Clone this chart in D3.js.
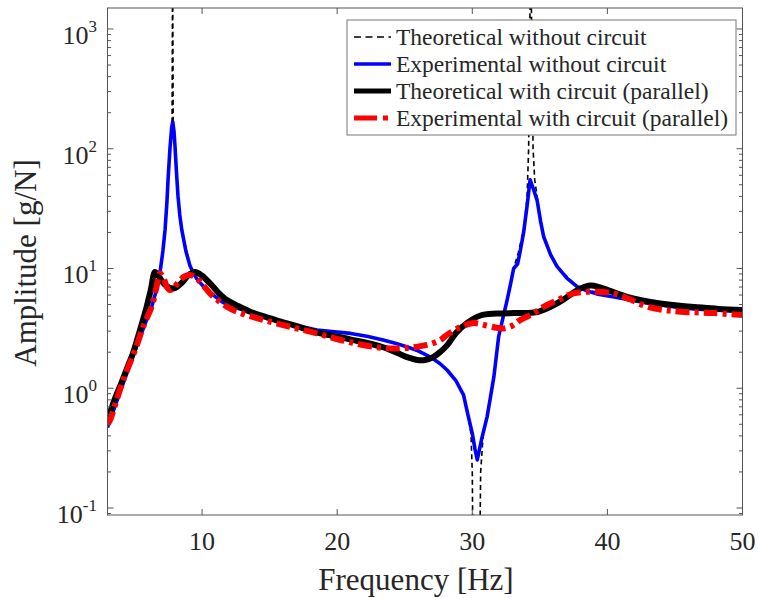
<!DOCTYPE html>
<html>
<head>
<meta charset="utf-8">
<script src="https://cdn.jsdelivr.net/npm/d3@7"></script>
<style>
  body { margin: 0; background: #fff; }
  svg { display: block; }
  text { font-family: "Liberation Serif", "Times New Roman", serif; fill: #262626; }
</style>
</head>
<body>
<svg id="chart" width="760" height="598"></svg>
<script>
// Frequency response data: [frequency (Hz), amplitude (g/N)]
const theoWithout = [
  [3.0,0.47],[4.0,0.98],[5.0,2.0],[6.0,4.0],[6.6,6.5],[6.9,9.2],[7.26,21],[7.48,55],[7.63,103],
  [7.78,170],[7.82,5000],[7.86,170],[8.0,103],[8.22,40],[8.5,21],[9.11,10.5],[9.61,8.2],[10.59,6.3],
  [11.56,5.2],[13.5,4.35],[16.0,3.55],[18.5,3.06],[21.0,2.87],[23.4,2.53],[25.2,2.21],[26.9,1.82],
  [28.13,1.42],[28.8,1.15],[29.35,0.88],[29.65,0.62],[29.9,0.42],[30.0,0.2],[30.05,0.04],[30.3,0.0001],
  [30.55,0.04],[30.62,0.2],[30.8,0.4],[31.1,0.58],[31.6,1.25],[31.95,2.7],[32.57,5.4],[33.06,10.0],
  [33.4,13.5],[33.8,21],[34.05,38],[34.17,100],[34.32,5000],[34.5,100],[34.62,55],[34.8,40],
  [35.05,26],[35.28,18.5],[35.8,13],[36.27,10.4],[37.76,7.05],[40.4,5.8],[42.9,5.15],[45.4,4.7],
  [47.85,4.5],[50,4.36]
];
const expWithout = [
  [3.0,0.47],[3.5,0.68],[4.0,0.98],[4.5,1.4],[5.0,2.0],[5.5,2.85],[6.0,4.0],[6.3,4.9],[6.6,6.5],
  [6.9,9.5],[7.1,14],[7.26,21],[7.4,36],[7.48,55],[7.63,103],[7.75,150],[7.83,168],[7.92,140],
  [8.0,103],[8.1,65],[8.22,40],[8.35,28],[8.5,21],[8.8,14],[9.11,10.5],[9.4,9.0],[9.61,8.2],
  [10.0,7.3],[10.59,6.3],[11.0,5.8],[11.56,5.2],[12.5,4.7],[13.5,4.35],[14.5,4.05],[16.0,3.55],
  [17.3,3.28],[18.5,3.06],[19.8,2.96],[21.0,2.87],[22.2,2.72],[23.4,2.53],[24.3,2.38],[25.2,2.21],
  [26.0,2.05],[26.9,1.82],[27.6,1.61],[28.13,1.42],[28.8,1.15],[29.35,0.88],[29.65,0.62],[30.0,0.42],
  [30.2,0.31],[30.37,0.252],[30.7,0.38],[31.1,0.58],[31.35,0.85],[31.6,1.25],[31.95,2.7],[32.3,4.0],
  [32.57,5.4],[32.85,7.6],[33.06,10.0],[33.35,10.9],[33.55,14],[33.8,20],[34.05,33],[34.28,55],
  [34.5,47],[34.8,37],[35.05,25],[35.28,18.5],[35.8,13],[36.27,10.4],[37.0,8.3],[37.76,7.05],
  [38.5,6.5],[39.3,6.1],[40.4,5.8],[41.7,5.45],[42.9,5.15],[44.2,4.9],[45.4,4.7],[46.6,4.58],
  [47.85,4.5],[50,4.36]
];
const theoWith = [
  [3.0,0.54],[3.5,0.79],[4.0,1.09],[4.5,1.52],[4.89,1.97],[5.4,3.05],[5.9,4.8],[6.2,6.6],[6.52,9.35],
  [6.8,8.6],[7.2,7.4],[7.6,6.9],[8.0,6.85],[8.5,7.6],[9.0,8.8],[9.48,9.35],[10.0,8.7],[10.59,7.5],
  [11.2,6.3],[11.83,5.46],[12.6,4.9],[13.56,4.36],[15.0,3.85],[16.0,3.55],[16.76,3.37],[18.52,2.92],
  [20.96,2.56],[23.4,2.2],[24.67,1.92],[25.3,1.8],[25.93,1.72],[26.5,1.72],[27.1,1.82],[27.6,2.0],
  [28.13,2.28],[28.8,2.9],[29.6,3.5],[30.6,4.05],[31.8,4.2],[33.04,4.24],[34.0,4.25],[34.8,4.33],
  [35.8,4.8],[36.74,5.5],[37.5,6.3],[38.0,6.8],[38.74,7.2],[39.4,7.0],[40.2,6.5],[41.46,5.8],
  [42.6,5.4],[43.9,5.1],[45.2,4.9],[46.4,4.78],[48.2,4.6],[50,4.5]
];
const expWith = [
  [3.0,0.5],[3.19,0.543],[3.6,0.75],[4.2,1.2],[5.04,2.08],[5.7,3.4],[6.27,4.8],[6.6,6.8],[6.89,9.1],
  [7.15,8.3],[7.4,7.0],[7.63,6.6],[7.9,6.9],[8.3,7.8],[8.7,8.6],[9.11,8.83],[9.6,8.3],[10.1,7.2],
  [10.59,6.2],[11.2,5.4],[11.83,4.8],[12.6,4.35],[13.56,4.0],[14.05,3.85],[16.0,3.37],[18.5,2.87],
  [20.96,2.42],[23.43,2.17],[25.16,2.17],[26.64,2.3],[27.63,2.53],[28.13,2.79],[29.0,3.2],[30.1,3.5],
  [31.0,3.35],[31.8,3.2],[32.32,3.16],[33.0,3.35],[33.56,3.72],[34.5,4.2],[35.3,4.8],[36.4,5.5],
  [37.5,6.2],[38.99,6.4],[40.47,6.2],[41.7,5.5],[42.94,4.8],[44.2,4.5],[45.4,4.36],[47.87,4.24],
  [50,4.09]
];

const xTicks = [10, 20, 30, 40, 50];
const yDecades = [-1, 0, 1, 2, 3];
const seriesNames = [
  "Theoretical without circuit",
  "Experimental without circuit",
  "Theoretical with circuit (parallel)",
  "Experimental with circuit (parallel)"
];

const svg = d3.select("#chart");
const box = { left: 107.5, right: 742.5, top: 8, bottom: 515 };

const x = d3.scaleLinear().domain([3, 50]).range([box.left, box.right]);
const y = d3.scaleLog().domain([0.08741, 1497]).range([box.bottom, box.top]);

svg.append("defs").append("clipPath").attr("id", "plotClip")
  .append("rect")
  .attr("x", box.left).attr("y", box.top)
  .attr("width", box.right - box.left).attr("height", box.bottom - box.top);

// Curves
const line = d3.line().x(d => x(d[0])).y(d => y(d[1]));
const smooth = d3.line().x(d => x(d[0])).y(d => y(d[1])).curve(d3.curveCatmullRom.alpha(0.5));

const styles = [
  { data: theoWithout, gen: line, color: "#000", width: 1.6, dash: "5,3.5" },
  { data: expWithout, gen: line, color: "#0000ff", width: 3.6, dash: null },
  { data: theoWith, gen: smooth, color: "#000", width: 6, dash: null },
  { data: expWith, gen: smooth, color: "#ff0000", width: 6, dash: "14,5,4,5" }
];

const curves = svg.append("g").attr("clip-path", "url(#plotClip)");
styles.forEach(s => {
  curves.append("path")
    .attr("d", s.gen(s.data))
    .attr("fill", "none")
    .attr("stroke", s.color)
    .attr("stroke-width", s.width)
    .attr("stroke-linejoin", "round")
    .attr("stroke-dasharray", s.dash);
});

// Axes box and ticks
const axisColor = "#555";
const axes = svg.append("g").attr("stroke", axisColor).attr("stroke-width", 1);
axes.append("rect")
  .attr("x", box.left).attr("y", box.top)
  .attr("width", box.right - box.left).attr("height", box.bottom - box.top)
  .attr("fill", "none");

const majorLen = 6, minorLen = 3.5;
xTicks.forEach(t => {
  const px = x(t);
  axes.append("line").attr("x1", px).attr("x2", px).attr("y1", box.bottom).attr("y2", box.bottom - majorLen);
  axes.append("line").attr("x1", px).attr("x2", px).attr("y1", box.top).attr("y2", box.top + majorLen);
});

const [yLo, yHi] = y.domain();
yDecades.forEach(k => {
  for (let m = 1; m <= 9; m++) {
    const v = m * Math.pow(10, k);
    if (v < yLo || v > yHi) continue;
    const py = y(v);
    const len = m === 1 ? majorLen : minorLen;
    axes.append("line").attr("x1", box.left).attr("x2", box.left + len).attr("y1", py).attr("y2", py);
    axes.append("line").attr("x1", box.right).attr("x2", box.right - len).attr("y1", py).attr("y2", py);
  }
});
// minor tick just under 10^-1
[0.09].forEach(v => {
  if (v < yLo) return;
  const py = y(v);
  axes.append("line").attr("x1", box.left).attr("x2", box.left + minorLen).attr("y1", py).attr("y2", py);
  axes.append("line").attr("x1", box.right).attr("x2", box.right - minorLen).attr("y1", py).attr("y2", py);
});

// Tick labels
svg.append("g").selectAll("text").data(xTicks).join("text")
  .attr("x", d => x(d)).attr("y", 550)
  .attr("text-anchor", "middle")
  .attr("font-size", 26)
  .text(d => d);

const yLab = svg.append("g").selectAll("text").data(yDecades).join("text")
  .attr("x", 97).attr("y", d => y(Math.pow(10, d)) + 15)
  .attr("text-anchor", "end")
  .attr("font-size", 26);
yLab.append("tspan").text("10");
yLab.append("tspan").attr("dy", -12).attr("font-size", 17).text(d => d < 0 ? "-" + (-d) : d);

// Axis titles
svg.append("text")
  .attr("x", 416).attr("y", 590)
  .attr("text-anchor", "middle")
  .attr("font-size", 31)
  .text("Frequency [Hz]");
svg.append("text")
  .attr("transform", "translate(36,263) rotate(-90)")
  .attr("text-anchor", "middle")
  .attr("font-size", 31)
  .text("Amplitude [g/N]");

// Legend
const legend = svg.append("g");
legend.append("rect")
  .attr("x", 347).attr("y", 20).attr("width", 389).attr("height", 115)
  .attr("fill", "#fff").attr("stroke", "#777").attr("stroke-width", 1);
const rowY = d3.scalePoint().domain(seriesNames).range([37, 118]);
seriesNames.forEach((name, i) => {
  const s = styles[i];
  const cy = rowY(name);
  legend.append("line")
    .attr("x1", 354).attr("x2", 391).attr("y1", cy).attr("y2", cy)
    .attr("stroke", s.color)
    .attr("stroke-width", Math.min(s.width, 5))
    .attr("stroke-dasharray", i === 0 ? "7,4.5" : (i === 3 ? "23,6,5,6" : null));
  legend.append("text")
    .attr("x", 396).attr("y", cy + 8)
    .attr("font-size", 23.5)
    .text(name);
});
</script>
</body>
</html>
